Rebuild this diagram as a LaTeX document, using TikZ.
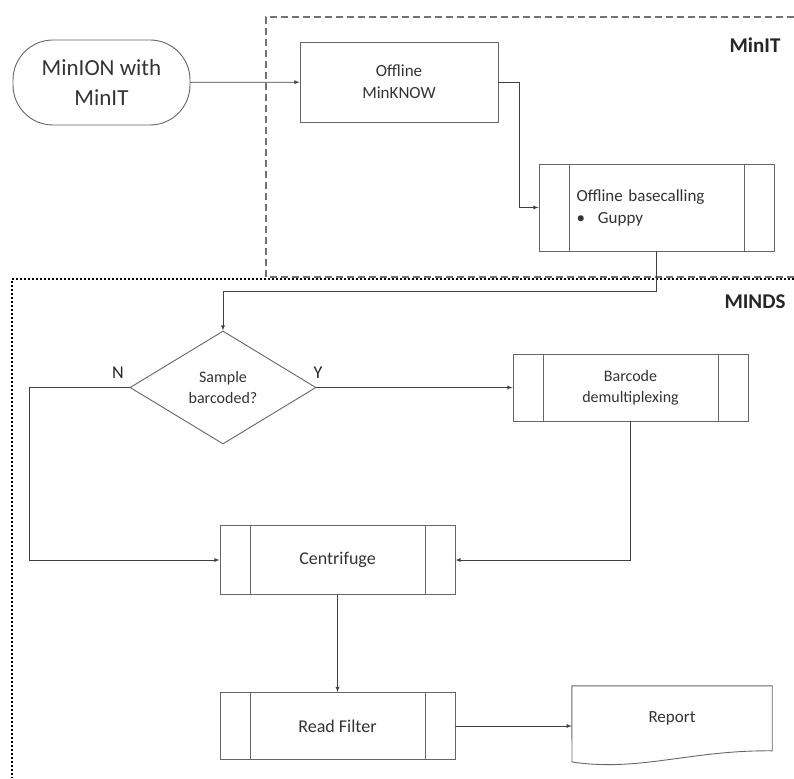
\documentclass[tikz,border=0pt]{standalone}
\usepackage{fontspec}
\setmainfont{Carlito}
\usetikzlibrary{shapes.geometric}
\tikzset{
  box/.style={draw=black!60, line width=0.9pt, rectangle, inner sep=0pt, align=center,
    text=black!80, font=\fontsize{17}{22}\selectfont},
  proc/.style={box, path picture={
    \draw[black!60, line width=0.9pt] ([xshift=30pt]path picture bounding box.north west)
      -- ([xshift=30pt]path picture bounding box.south west);
    \draw[black!60, line width=0.9pt] ([xshift=-30pt]path picture bounding box.north east)
      -- ([xshift=-30pt]path picture bounding box.south east);}},
  flow/.style={-latex, black!75, line width=0.8pt},
  grouplabel/.style={font=\fontsize{21}{24}\selectfont\bfseries, text=black!85},
}
\begin{document}
\begin{tikzpicture}[x=1pt, y=-1pt]
\useasboundingbox (0,0) rectangle (794,778);
% Group frames
\draw[black!55, line width=2pt, dash pattern=on 7pt off 4pt]
    (794,17) -- (266,17) -- (266,277) -- (794,277);
\draw[black, line width=1.8pt, dash pattern=on 1.6pt off 2.4pt]
    (794,279) -- (12,279) -- (12,778);
\node[grouplabel] (minitlab) at (755,45) {MinIT};
\node[grouplabel] (mindslab) at (755,302) {MINDS};
% MinIT part
\node[box, rounded corners=40pt, minimum width=177pt, minimum height=85pt,
      font=\fontsize{23}{30}\selectfont]
      (minion) at (101.5,82.5) {MinION with\\MinIT};
\node[box, minimum width=198pt, minimum height=80pt]
      (minknow) at (399,82) {Offline\\MinKNOW};
\node[proc, minimum width=235pt, minimum height=87pt, text width=160pt, align=left]
      (basecall) at (656.5,207.5) {Offline basecalling\\\textbullet\hspace{13pt}Guppy};
% MINDS part
\node[box, diamond, minimum width=186pt, minimum height=113pt, font=\fontsize{16}{21}\selectfont]
      (decide) at (223,387.5) {Sample\\barcoded?};
\node[proc, minimum width=235pt, minimum height=67pt, font=\fontsize{16}{21}\selectfont]
      (barcode) at (630.5,387.5) {Barcode\\demultiplexing};
\node[proc, minimum width=235pt, minimum height=69pt, font=\fontsize{18}{22}\selectfont]
      (centrifuge) at (337.5,560) {Centrifuge};
\node[proc, minimum width=235pt, minimum height=67pt, font=\fontsize{18}{22}\selectfont]
      (readfilter) at (337.5,726) {Read Filter};
\node[text=black!80, minimum width=200pt, minimum height=64pt, inner sep=0pt,
      font=\fontsize{17}{22}\selectfont]
      (report) at (672,718) {Report};
\draw[black!60, line width=0.9pt] (report.north west) -- (report.north east) -- ++(0,65)
    .. controls (690,750) and (640,772) .. (572,762) -- cycle;
% Branch labels
\node[text=black!85, font=\fontsize{18}{22}\selectfont] (nolab) at (118,373) {N};
\node[text=black!85, font=\fontsize{18}{22}\selectfont] (yeslab) at (318,373) {Y};
% Connectors
\draw[flow] (minion) -- (minknow);
\draw[flow] (minknow.east) -- ++(21,0) |- (basecall.west);
\draw[flow] (basecall.south) -- ++(0,40) -| (decide.north);
\draw[flow] (decide.east) -- (barcode.west);
\draw[flow] (decide.west) -- ++(-100,0) |- (centrifuge.west);
\draw[flow] (barcode.south) |- (centrifuge.east);
\draw[flow] (centrifuge.south) -- (readfilter.north);
\draw[flow] (readfilter.east) -- (readfilter.east -| report.west);
\end{tikzpicture}
\end{document}
